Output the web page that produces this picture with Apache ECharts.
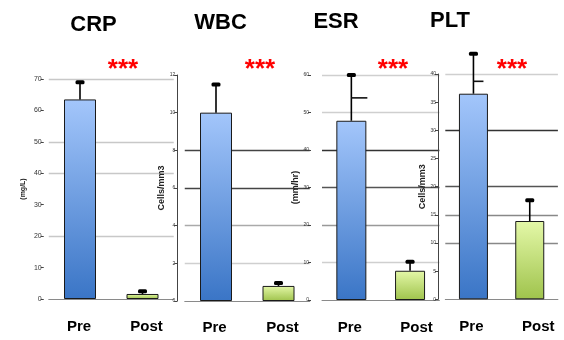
<!DOCTYPE html>
<html>
<head>
<meta charset="utf-8">
<script src="https://cdn.jsdelivr.net/npm/echarts@6/dist/echarts.min.js"></script>
<style>
  html, body { margin: 0; padding: 0; background: #fff; }
  #chart { width: 564px; height: 340px; }
</style>
</head>
<body>
<div id="chart"></div>
<script>
// Groups compared in every panel
const groups = ['Pre', 'Post'];

// Marker titles and axis units
const markers = ['CRP', 'WBC', 'ESR', 'PLT'];
const units = ['(mg/L)', 'Cells/mm3', '(mm/hr)', 'Cells/mm3'];
const signif = ['***', '***', '***', '***'];

// Means and standard deviations (Pre, Post)
const crpMean = [63.5, 1.6];
const crpSd = [5.5, 0.9];
const wbcMean = [10.0, 0.8];
const wbcSd = [1.5, 0.15];
const esrMean = [47.8, 7.8];
const esrSd = [12.2, 2.4];
const pltMean = [36.5, 13.9];
const pltSd = [7.1, 3.7];

// Extra short dash drawn on some upper whiskers
const crpDash = [null, null];
const wbcDash = [null, null];
const esrDash = [53.9, null];
const pltDash = [38.7, null];

// Value axis ticks
const crpTicks = [0, 10, 20, 30, 40, 50, 60, 70];
const wbcTicks = [0, 2, 4, 6, 8, 10, 12];
const esrTicks = [0, 10, 20, 30, 40, 50, 60];
const pltTicks = [0, 5, 10, 15, 20, 25, 30, 35, 40];

const means = [crpMean, wbcMean, esrMean, pltMean];
const sds = [crpSd, wbcSd, esrSd, pltSd];
const dashes = [crpDash, wbcDash, esrDash, pltDash];
const ticks = [crpTicks, wbcTicks, esrTicks, pltTicks];

const NONE = 'rgba(0,0,0,0)';
// Layout and style of each panel
const layout = [
  { left: 48.75, width: 125, top: 79, height: 220, offset: 5, barWidth: 32, axisLine: false,
    labelSize: 7, nameGap: 17, nameSize: 7, xMargin: 20.5, dashLen: 0, shift: [2, 8],
    split: ['#aaa', NONE, '#c8c8c8', NONE, '#c8c8c8', '#c8c8c8', NONE, '#c8c8c8'],
    title: [93.5, 14], star: [123, 57] },
  { left: 184.75, width: 125, top: 75, height: 226, offset: 7.5, barWidth: 32, axisLine: true,
    labelSize: 5, nameGap: 8, nameSize: 9, xMargin: 19, dashLen: 0, shift: [3, 8],
    split: ['#888', '#cfcfcf', '#aaa', '#444', '#444', NONE, NONE],
    title: [220.5, 12], star: [260, 57] },
  { left: 322, width: 117.4, top: 75, height: 225, offset: 11, barWidth: 30, axisLine: false,
    labelSize: 5, nameGap: 5, nameSize: 9, xMargin: 20, dashLen: 16, shift: [3, 13],
    split: ['#999', '#cfcfcf', '#999', '#555', '#333', '#cfcfcf', '#cfcfcf'],
    title: [336, 10.5], star: [393, 57] },
  { left: 445.3, width: 112.6, top: 74, height: 225.3, offset: 7.3, barWidth: 29, axisLine: true,
    labelSize: 5, nameGap: 7, nameSize: 9, xMargin: 20.5, dashLen: 10, shift: [4, 17],
    split: ['#888', NONE, '#888', '#888', '#555', NONE, '#333', NONE, '#cfcfcf'],
    title: [450, 10], star: [512, 57] }
];

const preFill = {
  type: 'linear', x: 0, y: 0, x2: 0, y2: 1,
  colorStops: [{ offset: 0, color: '#a3c6fb' }, { offset: 1, color: '#3a75c6' }]
};
const postFill = {
  type: 'linear', x: 0, y: 0, x2: 0, y2: 1,
  colorStops: [{ offset: 0, color: '#e4f8a8' }, { offset: 1, color: '#9fc34c' }]
};
const fills = [preFill, postFill];

const FONT = '"Liberation Sans", Arial, sans-serif';

function errorBars(dashLen) {
  return function (params, api) {
    const x = api.value(0);
    const base = api.coord([x, api.value(1)]);
    const top = api.coord([x, api.value(2)]);
    const kids = [
      { type: 'line', shape: { x1: base[0], y1: base[1], x2: top[0], y2: top[1] },
        style: { stroke: '#000', lineWidth: 1.6 } },
      { type: 'rect', shape: { x: top[0] - 4.5, y: top[1] - 2, width: 9, height: 4, r: 1.5 },
        style: { fill: '#000' } }
    ];
    const d = api.value(3);
    if (dashLen && !isNaN(d)) {
      const p = api.coord([x, d]);
      kids.push({ type: 'line', shape: { x1: p[0], y1: p[1], x2: p[0] + dashLen, y2: p[1] },
        style: { stroke: '#111', lineWidth: 1.6 } });
    }
    return { type: 'group', children: kids };
  };
}

const grid = [], xAxis = [], yAxis = [], series = [], title = [];

layout.forEach(function (L, k) {
  const t = ticks[k];
  const labelStyle = { fontFamily: FONT, fontWeight: 'bold', fontSize: 15, color: '#000' };
  grid.push({ left: L.left, top: L.top, width: L.width, height: L.height });
  xAxis.push({
    type: 'category', gridIndex: k, data: groups,
    axisLine: { lineStyle: { color: '#8a8a8a', width: 1 } },
    axisTick: { show: false },
    axisLabel: {
      margin: L.xMargin,
      formatter: function (v) { return v === groups[0] ? '{a|' + v + '}' : '{b|' + v + '}'; },
      rich: {
        a: Object.assign({ padding: [0, L.shift[0], 0, 0] }, labelStyle),
        b: Object.assign({ padding: [0, 0, 0, L.shift[1]] }, labelStyle)
      }
    }
  });
  yAxis.push({
    type: 'value', gridIndex: k, min: t[0], max: t[t.length - 1], interval: t[1] - t[0],
    offset: L.offset,
    name: units[k], nameLocation: 'middle', nameRotate: 90, nameGap: L.nameGap,
    nameTextStyle: { fontFamily: FONT, fontSize: L.nameSize, color: '#222', fontWeight: 'bold' },
    axisLine: { show: L.axisLine, lineStyle: { color: '#444', width: 1 } },
    axisTick: { show: true, length: 3, lineStyle: { color: '#444' } },
    axisLabel: { fontFamily: FONT, fontSize: L.labelSize, color: '#333', margin: 2 },
    splitLine: { show: true, showMinLine: false, lineStyle: { color: L.split.slice(1), width: 1.3 } }
  });
  series.push({
    type: 'bar', xAxisIndex: k, yAxisIndex: k, barWidth: L.barWidth,
    itemStyle: { borderColor: '#1a1a1a', borderWidth: 1 },
    data: means[k].map(function (v, i) { return { value: v, itemStyle: { color: fills[i] } }; }),
    z: 3
  });
  series.push({
    type: 'custom', xAxisIndex: k, yAxisIndex: k, clip: false, z: 4,
    renderItem: errorBars(L.dashLen),
    data: means[k].map(function (m, i) {
      return [i, m, m + sds[k][i], dashes[k][i] == null ? NaN : dashes[k][i]];
    })
  });
  title.push({
    text: markers[k], left: L.title[0], top: L.title[1], textAlign: 'center', padding: 0,
    textStyle: { fontFamily: FONT, fontWeight: 'bold', fontSize: 22, color: '#000' }
  });
  title.push({
    text: signif[k], left: L.star[0], top: L.star[1], textAlign: 'center', padding: 0,
    textStyle: { fontFamily: FONT, fontWeight: 'bold', fontSize: 26, color: '#ff0000' }
  });
});

const chart = echarts.init(document.getElementById('chart'), null, { renderer: 'canvas' });
chart.setOption({
  animation: false,
  backgroundColor: '#fff',
  title: title,
  grid: grid,
  xAxis: xAxis,
  yAxis: yAxis,
  series: series
});
</script>
</body>
</html>
